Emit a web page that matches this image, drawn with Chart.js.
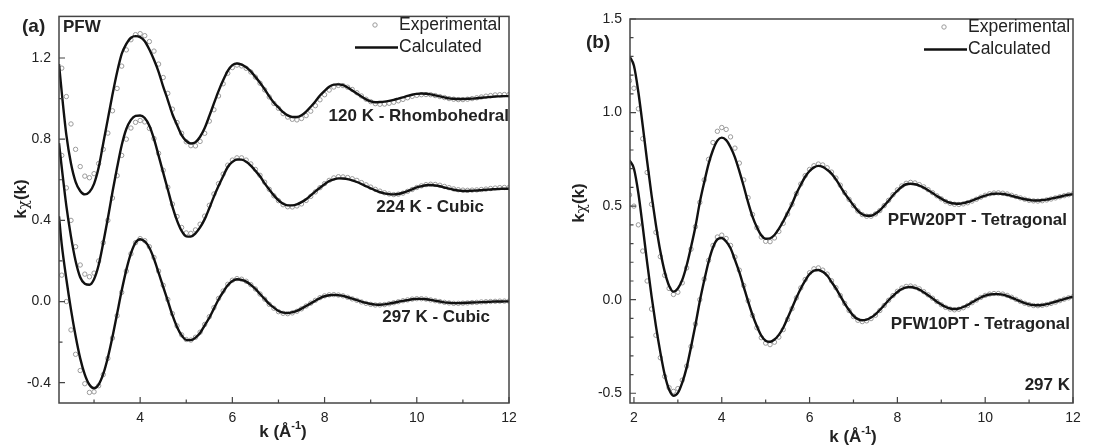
<!DOCTYPE html>
<html>
<head>
<meta charset="utf-8">
<script src="https://cdn.jsdelivr.net/npm/chart.js@4.4.1/dist/chart.umd.min.js"></script>
<style>
  html, body { margin: 0; padding: 0; background: #fff; }
  #wrap { position: relative; width: 1120px; height: 448px; }
  .box { position: absolute; top: 0; width: 560px; height: 448px; }
</style>
</head>
<body>
<div id="wrap">
  <div class="box" style="left:0"><canvas id="chartA"></canvas></div>
  <div class="box" style="left:560px"><canvas id="chartB"></canvas></div>
</div>
<script>
// ---- panel (a): PFW at three temperatures ----
var kA = [2.3,2.4,2.5,2.6,2.7,2.8,2.9,3.0,3.1,3.2,
  3.3,3.4,3.5,3.6,3.7,3.8,3.9,4.0,4.1,4.2,
  4.3,4.4,4.5,4.6,4.7,4.8,4.9,5.0,5.1,5.2,
  5.3,5.4,5.5,5.6,5.7,5.8,5.9,6.0,6.1,6.2,
  6.3,6.4,6.5,6.6,6.7,6.8,6.9,7.0,7.1,7.2,
  7.3,7.4,7.5,7.6,7.7,7.8,7.9,8.0,8.1,8.2,
  8.3,8.4,8.5,8.6,8.7,8.8,8.9,9.0,9.1,9.2,
  9.3,9.4,9.5,9.6,9.7,9.8,9.9,10.0,10.1,10.2,
  10.3,10.4,10.5,10.6,10.7,10.8,10.9,11.0,11.1,11.2,
  11.3,11.4,11.5,11.6,11.7,11.8,11.9,12.0];
// the fitted curves also start right at the left frame
var kCalcA = [2.24].concat(kA);

var calc120 = [1.17,
  1.03,0.82,0.68,0.59,0.545,0.528,0.54,0.58,0.66,0.78,
  0.90,1.02,1.13,1.22,1.27,1.30,1.308,1.303,1.283,1.242,
  1.191,1.132,1.059,0.993,0.923,0.870,0.82,0.791,0.779,0.785,
  0.812,0.855,0.914,0.976,1.037,1.09,1.137,1.165,1.173,1.167,
  1.154,1.134,1.107,1.078,1.046,1.011,0.98,0.956,0.933,0.917,
  0.909,0.909,0.918,0.936,0.96,0.986,1.015,1.038,1.058,1.069,
  1.070,1.066,1.055,1.04,1.025,1.01,0.996,0.986,0.982,0.983,
  0.985,0.989,0.994,1.0,1.006,1.013,1.019,1.023,1.025,1.024,
  1.021,1.016,1.011,1.006,1.001,0.999,0.998,0.998,0.999,1.0,
  1.002,1.004,1.006,1.008,1.01,1.011,1.012,1.012];
var exp120 = [1.15,1.01,0.875,0.75,0.665,0.618,0.61,0.63,0.68,0.75,
  0.83,0.94,1.05,1.16,1.24,1.29,1.315,1.32,1.31,1.281,
  1.234,1.17,1.104,1.026,0.948,0.882,0.829,0.787,0.768,0.767,
  0.789,0.829,0.889,0.945,1.013,1.073,1.125,1.153,1.165,1.161,
  1.149,1.131,1.106,1.076,1.043,1.008,0.976,0.952,0.926,0.909,
  0.898,0.895,0.902,0.916,0.938,0.965,0.994,1.019,1.042,1.057,
  1.065,1.064,1.056,1.045,1.029,1.013,0.997,0.985,0.975,0.972,
  0.973,0.977,0.982,0.989,0.996,1.004,1.011,1.016,1.019,1.02,
  1.019,1.015,1.01,1.005,1.0,0.997,0.995,0.995,0.997,1.0,
  1.004,1.008,1.012,1.015,1.018,1.019,1.02,1.02];

var calc224 = [0.78,
  0.66,0.47,0.32,0.2,0.12,0.088,0.083,0.11,0.18,0.29,
  0.41,0.54,0.66,0.77,0.85,0.895,0.915,0.917,0.904,0.866,
  0.801,0.719,0.635,0.552,0.468,0.399,0.348,0.321,0.32,0.336,
  0.365,0.406,0.46,0.517,0.569,0.617,0.663,0.688,0.70,0.699,
  0.689,0.67,0.644,0.617,0.582,0.552,0.523,0.499,0.482,0.474,
  0.474,0.479,0.49,0.504,0.523,0.543,0.561,0.578,0.594,0.602,
  0.607,0.606,0.603,0.597,0.589,0.579,0.568,0.558,0.548,0.539,
  0.533,0.529,0.528,0.53,0.536,0.544,0.553,0.562,0.568,0.573,
  0.574,0.572,0.568,0.562,0.556,0.551,0.547,0.545,0.545,0.546,
  0.547,0.549,0.551,0.552,0.554,0.555,0.556,0.556];
var exp224 = [0.72,0.56,0.4,0.27,0.18,0.135,0.122,0.14,0.2,0.29,
  0.4,0.51,0.62,0.72,0.8,0.855,0.883,0.892,0.885,0.853,
  0.803,0.73,0.647,0.563,0.48,0.419,0.365,0.338,0.336,0.353,
  0.381,0.421,0.474,0.53,0.581,0.628,0.672,0.697,0.708,0.708,
  0.697,0.678,0.651,0.622,0.588,0.553,0.521,0.497,0.477,0.467,
  0.466,0.471,0.481,0.498,0.518,0.54,0.561,0.581,0.597,0.609,
  0.615,0.614,0.611,0.605,0.597,0.586,0.575,0.564,0.553,0.544,
  0.536,0.53,0.527,0.529,0.534,0.543,0.552,0.562,0.57,0.576,
  0.578,0.577,0.573,0.567,0.561,0.555,0.551,0.549,0.548,0.549,
  0.55,0.552,0.554,0.557,0.559,0.561,0.562,0.562];

var calc297 = [0.42,
  0.28,0.11,-0.04,-0.17,-0.28,-0.36,-0.41,-0.427,-0.409,-0.357,
  -0.276,-0.174,-0.06,0.054,0.156,0.237,0.29,0.307,0.296,0.265,
  0.21,0.142,0.072,0.003,-0.067,-0.125,-0.167,-0.189,-0.19,-0.178,
  -0.155,-0.117,-0.08,-0.035,0.01,0.047,0.08,0.101,0.11,0.107,
  0.098,0.082,0.062,0.037,0.013,-0.012,-0.03,-0.047,-0.055,-0.057,
  -0.053,-0.046,-0.035,-0.022,-0.009,0.004,0.017,0.026,0.031,0.033,
  0.031,0.028,0.021,0.014,0.007,0.0,-0.007,-0.012,-0.015,-0.016,
  -0.014,-0.01,-0.006,-0.001,0.003,0.007,0.011,0.013,0.013,0.011,
  0.008,0.004,0.0,-0.004,-0.006,-0.008,-0.008,-0.007,-0.006,-0.005,
  -0.004,-0.003,-0.002,-0.001,0.0,0.0,0.001,0.001];
var exp297 = [0.13,0.0,-0.14,-0.26,-0.34,-0.405,-0.448,-0.445,-0.415,-0.36,
  -0.28,-0.18,-0.07,0.045,0.15,0.235,0.29,0.31,0.3,0.27,
  0.217,0.15,0.08,0.01,-0.06,-0.12,-0.164,-0.187,-0.19,-0.176,
  -0.151,-0.113,-0.075,-0.03,0.015,0.052,0.085,0.105,0.113,0.11,
  0.1,0.083,0.062,0.037,0.012,-0.014,-0.033,-0.05,-0.058,-0.06,
  -0.056,-0.048,-0.036,-0.022,-0.008,0.006,0.019,0.028,0.033,0.034,
  0.032,0.028,0.021,0.013,0.006,-0.002,-0.009,-0.014,-0.017,-0.017,
  -0.015,-0.011,-0.006,-0.001,0.004,0.008,0.012,0.014,0.014,0.012,
  0.008,0.004,0.0,-0.004,-0.007,-0.009,-0.009,-0.008,-0.007,-0.005,
  -0.004,-0.002,-0.001,0.0,0.001,0.002,0.002,0.002];

// ---- panel (b): PFW20PT / PFW10PT at 297 K ----
var kB = [1.9,2.0,2.1,2.2].concat(kA);

var calc20PT = [1.30,1.25,1.11,0.93,
  0.74,0.56,0.40,0.26,0.15,0.075,0.043,0.06,0.106,0.183,
  0.282,0.39,0.52,0.627,0.726,0.80,0.85,0.866,0.853,0.815,
  0.761,0.687,0.606,0.52,0.444,0.387,0.344,0.326,0.328,0.346,
  0.378,0.419,0.465,0.512,0.567,0.614,0.657,0.688,0.707,0.715,
  0.71,0.694,0.674,0.643,0.606,0.568,0.536,0.504,0.475,0.457,
  0.449,0.449,0.46,0.477,0.503,0.529,0.558,0.582,0.604,0.617,
  0.62,0.617,0.61,0.599,0.585,0.57,0.554,0.54,0.527,0.518,
  0.514,0.513,0.516,0.522,0.53,0.539,0.548,0.556,0.563,0.566,
  0.567,0.565,0.561,0.555,0.549,0.543,0.537,0.533,0.53,0.53,
  0.532,0.535,0.54,0.545,0.55,0.556,0.561,0.564];
var exp20PT = [1.17,1.13,1.02,0.86,
  0.68,0.51,0.36,0.23,0.13,0.06,0.028,0.04,0.09,0.17,
  0.27,0.39,0.52,0.64,0.75,0.84,0.9,0.92,0.91,0.87,
  0.81,0.73,0.64,0.545,0.455,0.385,0.335,0.312,0.31,0.33,
  0.365,0.408,0.458,0.51,0.567,0.618,0.663,0.696,0.716,0.725,
  0.72,0.705,0.682,0.65,0.612,0.572,0.536,0.503,0.474,0.455,
  0.446,0.446,0.458,0.476,0.503,0.531,0.561,0.587,0.608,0.622,
  0.627,0.624,0.615,0.603,0.588,0.572,0.555,0.539,0.525,0.515,
  0.51,0.509,0.512,0.518,0.527,0.537,0.548,0.558,0.566,0.57,
  0.571,0.569,0.565,0.558,0.551,0.544,0.537,0.531,0.528,0.527,
  0.529,0.533,0.538,0.544,0.55,0.556,0.561,0.566];

var calc10PT = [0.745,0.7,0.57,0.39,
  0.2,0.02,-0.14,-0.28,-0.4,-0.48,-0.513,-0.498,-0.443,-0.363,
  -0.253,-0.135,-0.008,0.102,0.203,0.279,0.322,0.33,0.311,0.275,
  0.213,0.147,0.069,-0.009,-0.081,-0.142,-0.192,-0.219,-0.225,-0.213,
  -0.188,-0.15,-0.098,-0.044,0.01,0.06,0.102,0.137,0.156,0.159,
  0.149,0.129,0.095,0.06,0.02,-0.021,-0.056,-0.086,-0.104,-0.11,
  -0.106,-0.095,-0.078,-0.055,-0.03,-0.003,0.02,0.041,0.057,0.066,
  0.068,0.063,0.054,0.04,0.024,0.007,-0.011,-0.026,-0.039,-0.047,
  -0.05,-0.047,-0.039,-0.028,-0.014,-0.001,0.012,0.022,0.028,0.03,
  0.03,0.027,0.02,0.011,0.001,-0.009,-0.018,-0.025,-0.029,-0.03,
  -0.028,-0.024,-0.018,-0.011,-0.004,0.003,0.01,0.015];
var exp10PT = [0.56,0.5,0.4,0.26,
  0.1,-0.05,-0.19,-0.31,-0.41,-0.47,-0.49,-0.475,-0.43,-0.355,
  -0.25,-0.13,0.0,0.11,0.21,0.29,0.335,0.345,0.327,0.29,
  0.228,0.158,0.076,-0.006,-0.084,-0.15,-0.203,-0.232,-0.24,-0.227,
  -0.2,-0.16,-0.105,-0.048,0.01,0.063,0.108,0.144,0.165,0.17,
  0.158,0.137,0.101,0.064,0.022,-0.02,-0.058,-0.09,-0.11,-0.117,
  -0.113,-0.101,-0.083,-0.058,-0.031,-0.003,0.022,0.045,0.062,0.071,
  0.073,0.068,0.058,0.043,0.026,0.008,-0.01,-0.027,-0.041,-0.05,
  -0.054,-0.051,-0.043,-0.031,-0.016,-0.002,0.012,0.023,0.03,0.033,
  0.033,0.03,0.023,0.013,0.002,-0.009,-0.019,-0.026,-0.031,-0.032,
  -0.03,-0.026,-0.02,-0.013,-0.005,0.003,0.01,0.016];

// tick labels and minor ticks
var xTicksA = [4, 6, 8, 10, 12];
var xMinorA = [3, 5, 7, 9, 11];
var yTicksA = [-0.4, 0.0, 0.4, 0.8, 1.2];
var yMinorA = [-0.2, 0.2, 0.6, 1.0];
var xTicksB = [2, 4, 6, 8, 10, 12];
var xMinorB = [3, 5, 7, 9, 11];
var yTicksB = [-0.5, 0.0, 0.5, 1.0, 1.5];
var yMinorB = [-0.4,-0.3,-0.2,-0.1,0.1,0.2,0.3,0.4,0.6,0.7,0.8,0.9,1.1,1.2,1.3,1.4];

var FONT = '"Liberation Sans", Arial, Helvetica, sans-serif';
var INK = '#222';

function pts(k, v) {
  return k.map(function (x, i) { return { x: x, y: v[i] }; });
}
function calcSet(k, v) {
  return { label: 'Calculated', data: pts(k, v), borderColor: '#111', borderWidth: 2.4,
    pointRadius: 0, cubicInterpolationMode: 'monotone', fill: false, order: 0 };
}
function expSet(k, v) {
  return { label: 'Experimental', data: pts(k, v), showLine: false, pointRadius: 2.2,
    pointBorderWidth: 1, pointBorderColor: '#9a9a9a', pointBackgroundColor: 'rgba(0,0,0,0)', order: 1 };
}

function makeOptions(o) {
  return {
    responsive: true,
    maintainAspectRatio: false,
    animation: false,
    devicePixelRatio: 1,
    events: [],
    layout: { padding: { top: o.top, right: o.right, left: 0, bottom: 0 } },
    plugins: { legend: { display: false }, tooltip: { enabled: false } },
    scales: {
      x: {
        type: 'linear', min: o.xmin, max: o.xmax,
        afterBuildTicks: function (s) { s.ticks = o.xTicks.map(function (v) { return { value: v }; }); },
        afterFit: function (s) { s.height = 45; },
        grid: { display: false, drawTicks: false },
        border: { display: false },
        ticks: { font: { family: FONT, size: 14 }, color: INK, padding: 7, maxRotation: 0, autoSkip: false,
          callback: function (v) { return String(v); } }
      },
      y: {
        type: 'linear', min: o.ymin, max: o.ymax,
        afterBuildTicks: function (s) { s.ticks = o.yTicks.map(function (v) { return { value: v }; }); },
        afterFit: function (s) { s.width = o.yWidth; },
        grid: { display: false, drawTicks: false },
        border: { display: false },
        ticks: { font: { family: FONT, size: 14 }, color: INK, padding: 8,
          callback: function (v) { return v.toFixed(1); } }
      }
    }
  };
}

function drawXTitle(ctx, cx, cy) {
  var big = 'bold 17px ' + FONT, small = 'bold 11px ' + FONT;
  ctx.font = big; var w1 = ctx.measureText('k (\u00c5').width; var w3 = ctx.measureText(')').width;
  ctx.font = small; var w2 = ctx.measureText('-1').width;
  var x = cx - (w1 + w2 + w3) / 2;
  ctx.fillStyle = INK; ctx.textAlign = 'left'; ctx.textBaseline = 'middle';
  ctx.font = big; ctx.fillText('k (\u00c5', x, cy);
  ctx.font = small; ctx.fillText('-1', x + w1, cy - 6);
  ctx.font = big; ctx.fillText(')', x + w1 + w2, cy);
}

function drawYTitle(ctx, cx, cy) {
  var bold = 'bold 17px ' + FONT, greek = '15px "DejaVu Serif", serif';
  ctx.save();
  ctx.translate(cx, cy);
  ctx.rotate(-Math.PI / 2);
  ctx.font = bold; var a = ctx.measureText('k').width; var c = ctx.measureText('(k)').width;
  ctx.font = greek; var b = ctx.measureText('\u03c7').width;
  var x = -(a + b + c) / 2;
  ctx.fillStyle = INK; ctx.textAlign = 'left'; ctx.textBaseline = 'middle';
  ctx.font = bold; ctx.fillText('k', x, 0);
  ctx.font = greek; ctx.fillText('\u03c7', x + a, 3);
  ctx.font = bold; ctx.fillText('(k)', x + a + b, 0);
  ctx.restore();
}

function framePlugin(o) {
  return {
    id: 'frame',
    afterDraw: function (chart) {
      var ctx = chart.ctx, a = chart.chartArea, xs = chart.scales.x, ys = chart.scales.y;
      ctx.save();
      ctx.strokeStyle = '#444';
      ctx.lineWidth = 1.2;
      ctx.beginPath();
      o.xTicks.forEach(function (v) { var p = xs.getPixelForValue(v); ctx.moveTo(p, a.bottom); ctx.lineTo(p, a.bottom - 6); });
      o.xMinor.forEach(function (v) { var p = xs.getPixelForValue(v); ctx.moveTo(p, a.bottom); ctx.lineTo(p, a.bottom - 3.5); });
      o.yTicks.forEach(function (v) { var p = ys.getPixelForValue(v); ctx.moveTo(a.left, p); ctx.lineTo(a.left + 6, p); });
      o.yMinor.forEach(function (v) { var p = ys.getPixelForValue(v); ctx.moveTo(a.left, p); ctx.lineTo(a.left + 3.5, p); });
      ctx.stroke();
      ctx.lineWidth = 1.5;
      ctx.strokeRect(a.left, a.top, a.right - a.left, a.bottom - a.top);

      // legend
      ctx.strokeStyle = '#9a9a9a'; ctx.lineWidth = 1;
      ctx.beginPath(); ctx.arc(o.legX - 24, o.legY, 2.2, 0, Math.PI * 2); ctx.stroke();
      ctx.strokeStyle = '#111'; ctx.lineWidth = 2.4;
      ctx.beginPath(); ctx.moveTo(o.legX - 44, o.legY + 22.5); ctx.lineTo(o.legX - 1, o.legY + 22.5); ctx.stroke();
      ctx.fillStyle = INK; ctx.textAlign = 'left'; ctx.textBaseline = 'middle';
      ctx.font = '17.5px ' + FONT;
      ctx.fillText('Experimental', o.legX, o.legY);
      ctx.fillText('Calculated', o.legX, o.legY + 22.5);

      // annotations
      o.notes.forEach(function (n) {
        ctx.font = n.font; ctx.textAlign = n.align; ctx.fillText(n.text, n.x, n.y);
      });
      drawXTitle(ctx, o.xTitle[0], o.xTitle[1]);
      drawYTitle(ctx, o.yTitle[0], o.yTitle[1]);
      ctx.restore();
    }
  };
}

var B19 = 'bold 19px ' + FONT, B17 = 'bold 17px ' + FONT;

new Chart(document.getElementById('chartA'), {
  type: 'line',
  data: { datasets: [
    calcSet(kCalcA, calc120), calcSet(kCalcA, calc224), calcSet(kCalcA, calc297),
    expSet(kA, exp120), expSet(kA, exp224), expSet(kA, exp297)
  ] },
  options: makeOptions({ xmin: 2.24, xmax: 12, ymin: -0.5, ymax: 1.405, xTicks: xTicksA, yTicks: yTicksA,
    yWidth: 59, top: 14, right: 51 }),
  plugins: [framePlugin({
    xTicks: xTicksA, xMinor: xMinorA, yTicks: yTicksA, yMinor: yMinorA,
    legX: 399, legY: 25,
    xTitle: [283, 432], yTitle: [21, 199],
    notes: [
      { text: '(a)', x: 22, y: 27, align: 'left', font: B19 },
      { text: 'PFW', x: 63, y: 27, align: 'left', font: B17 },
      { text: '120 K - Rhombohedral', x: 509, y: 116, align: 'right', font: B17 },
      { text: '224 K - Cubic', x: 484, y: 207, align: 'right', font: B17 },
      { text: '297 K - Cubic', x: 490, y: 317, align: 'right', font: B17 }
    ]
  })]
});

new Chart(document.getElementById('chartB'), {
  type: 'line',
  data: { datasets: [
    calcSet(kB, calc20PT), calcSet(kB, calc10PT),
    expSet(kB, exp20PT), expSet(kB, exp10PT)
  ] },
  options: makeOptions({ xmin: 1.91, xmax: 12, ymin: -0.552, ymax: 1.5, xTicks: xTicksB, yTicks: yTicksB,
    yWidth: 70, top: 19, right: 47 }),
  plugins: [framePlugin({
    xTicks: xTicksB, xMinor: xMinorB, yTicks: yTicksB, yMinor: yMinorB,
    legX: 408, legY: 27,
    xTitle: [293, 437], yTitle: [19, 203],
    notes: [
      { text: '(b)', x: 26, y: 43, align: 'left', font: B19 },
      { text: 'PFW20PT - Tetragonal', x: 507, y: 220, align: 'right', font: B17 },
      { text: 'PFW10PT - Tetragonal', x: 510, y: 324, align: 'right', font: B17 },
      { text: '297 K', x: 510, y: 385, align: 'right', font: B17 }
    ]
  })]
});
</script>
</body>
</html>
